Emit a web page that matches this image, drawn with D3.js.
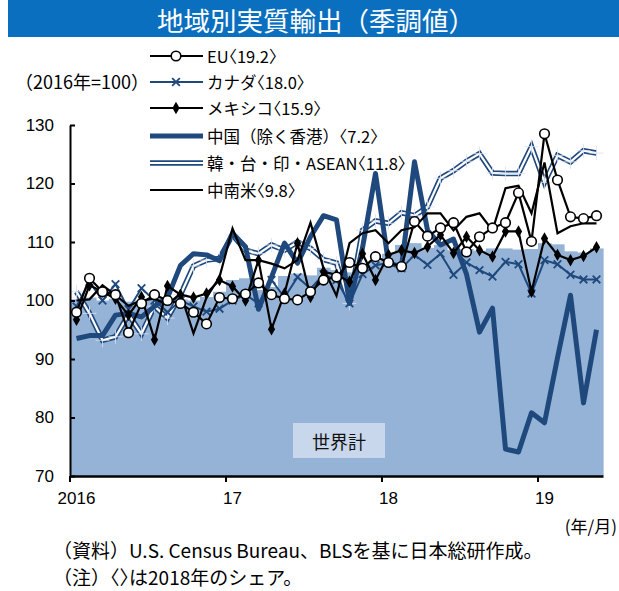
<!DOCTYPE html>
<html>
<head>
<meta charset="utf-8">
<script src="https://cdn.jsdelivr.net/npm/d3@7"></script>
<style>
  body { margin: 0; background: #fff; }
  text { font-family: "Noto Sans CJK JP", "DejaVu Sans", sans-serif; }
  .num { font-family: "Liberation Sans", Arial, sans-serif; }
  .half { font-feature-settings: "halt" 1; }
</style>
</head>
<body>
<div id="chart"></div>
<script>
// ---------------------------------------------------------------------------
// DATA  (2016/1 - 2019/5, 2016 = 100)
// ---------------------------------------------------------------------------
const months = [
  '2016/1', '2016/2', '2016/3', '2016/4', '2016/5', '2016/6', '2016/7', '2016/8', '2016/9', '2016/10', '2016/11', '2016/12',
  '2017/1', '2017/2', '2017/3', '2017/4', '2017/5', '2017/6', '2017/7', '2017/8', '2017/9', '2017/10', '2017/11', '2017/12',
  '2018/1', '2018/2', '2018/3', '2018/4', '2018/5', '2018/6', '2018/7', '2018/8', '2018/9', '2018/10', '2018/11', '2018/12',
  '2019/1', '2019/2', '2019/3', '2019/4', '2019/5',
];
const tickMonths = ['2016/1', '2017/1', '2018/1', '2019/1'];
const tickLabels = ['2016', '17', '18', '19'];
const yTicks = [70, 80, 90, 100, 110, 120, 130];

const world = [
  100.2, 100.5, 100.0, 100.3, 99.8, 100.0, 100.4, 99.6, 100.2, 100.0, 100.6, 101.5,
  103.5, 103.8, 101.8, 102.3, 104.2, 104.6, 104.3, 105.6, 105.2, 104.8, 106.0, 106.8,
  108.0, 109.5, 109.8, 109.0, 109.5, 108.6, 108.8, 108.5, 108.9, 108.9, 108.7, 108.8,
  109.8, 109.6, 108.4, 108.2, 108.9,
];
const eu = [
  98.0, 103.8, 101.5, 101.0, 94.5, 99.5, 101.0, 100.0, 99.5, 98.0, 96.0, 100.5,
  100.3, 101.1, 103.0, 101.0, 100.3, 100.1, 101.5, 103.5, 104.0, 106.5, 105.5, 107.5,
  106.5, 105.8, 113.5, 111.0, 112.4, 113.3, 108.3, 110.9, 112.4, 113.3, 118.4, 110.1,
  128.5, 120.6, 114.3, 114.0, 114.5,
];
const canada = [
  99.0, 103.2, 100.0, 102.8, 98.5, 102.1, 100.0, 98.0, 100.0, 99.0, 98.1, 98.6,
  100.0, 101.0, 99.5, 103.5, 100.5, 104.0, 102.0, 104.5, 103.5, 99.5, 104.5, 106.0,
  106.5, 105.5, 107.8, 106.1, 108.0, 104.4, 106.5, 105.2, 104.1, 106.6, 106.2, 101.2,
  106.9, 106.2, 104.4, 103.6, 103.6,
];
const mexico = [
  96.7, 102.6, 101.5, 100.3, 97.5, 100.6, 93.3, 102.5, 101.0, 100.5, 101.2, 103.5,
  102.4, 100.0, 106.9, 95.1, 101.2, 109.8, 100.6, 104.9, 104.4, 103.2, 108.0, 103.5,
  107.8, 108.6, 108.1, 109.2, 111.2, 108.1, 110.9, 108.6, 107.5, 111.8, 111.8, 101.5,
  110.6, 107.8, 106.9, 107.6, 109.1,
];
const china = [
  93.5, 94.0, 94.0, 97.5, 97.8, 97.2, 99.0, 100.5, 106.0, 108.0, 107.8, 106.8,
  111.5, 109.2, 98.5, 104.0, 109.8, 106.4, 110.9, 114.5, 113.8, 99.5, 109.0, 121.7,
  106.4, 105.8, 123.7, 112.0, 109.5, 110.5, 104.5, 94.6, 98.7, 74.6, 74.1, 80.8,
  79.1, 90.2, 100.9, 82.5, 95.0,
];
const asean = [
  101.5, 97.8, 93.2, 93.8, 97.6, 94.3, 99.0, 97.0, 101.0, 105.9, 106.9, 107.2,
  111.2, 108.6, 108.0, 109.5, 108.6, 110.0, 108.9, 107.0, 106.4, 99.5, 112.0, 113.6,
  113.2, 115.0, 114.5, 116.0, 120.9, 122.2, 123.8, 125.1, 121.8, 121.7, 121.7, 126.3,
  120.2, 124.8, 123.7, 125.6, 125.2,
];
const latam = [
  100.0, 100.2, 102.6, 100.9, 99.1, 100.0, 100.3, 99.3, 101.2, 94.4, 100.5, 104.0,
  112.3, 106.9, 106.9, 106.3, 105.5, 106.9, 113.3, 105.5, 100.8, 109.8, 111.5, 112.0,
  109.8, 112.0, 112.5, 114.9, 114.9, 112.0, 114.3, 114.9, 112.0, 119.2, 119.6, 114.9,
  123.6, 111.5, 112.7, 113.2, 113.2,
];

// ---------------------------------------------------------------------------
// SETUP
// ---------------------------------------------------------------------------
const blue = '#1F497D';
const areaColor = '#95B3D7';

const svg = d3.select('#chart').append('svg')
  .attr('width', 619)
  .attr('height', 591);

svg.append('rect').attr('width', 619).attr('height', 591).attr('fill', '#fff');

// title bar
svg.append('rect')
  .attr('x', 8).attr('y', 0)
  .attr('width', 611).attr('height', 37)
  .attr('fill', '#0B6FBF');
svg.append('text')
  .attr('x', 316).attr('y', 19)
  .attr('text-anchor', 'middle')
  .attr('dominant-baseline', 'central')
  .attr('fill', '#fff')
  .style('font-size', '26.5px')
  .text('地域別実質輸出（季調値）');

const x = d3.scaleBand().domain(months).range([70, 603]).padding(0);
const y = d3.scaleLinear().domain([70, 130]).range([476, 125]);
const cx = m => x(m) + x.bandwidth() / 2;

// text whose 〈 〉 brackets are set half width
function bracketText(sel, str) {
  str.split(/([〈〉])/).filter(s => s.length).forEach((part) => {
    const t = sel.append('tspan').text(part);
    if (part === '〈' || part === '〉') t.attr('class', 'half');
  });
}

const g = svg.append('g');

// ---------------------------------------------------------------------------
// WORLD TOTAL (stepped area drawn as bars)
// ---------------------------------------------------------------------------
g.selectAll('.world')
  .data(months)
  .enter().append('rect')
    .attr('class', 'world')
    .attr('x', m => x(m))
    .attr('width', x.bandwidth() + 0.6)
    .attr('y', (m, i) => y(world[i]))
    .attr('height', (m, i) => y(70) - y(world[i]))
    .attr('fill', areaColor);

// label box
g.append('rect')
  .attr('x', 293).attr('y', 423)
  .attr('width', 92).attr('height', 35)
  .attr('fill', '#C8D7EB');
g.append('text')
  .attr('x', 339).attr('y', 441)
  .attr('text-anchor', 'middle')
  .attr('dominant-baseline', 'central')
  .attr('fill', '#111')
  .style('font-size', '18px')
  .text('世界計');

// ---------------------------------------------------------------------------
// LINES
// ---------------------------------------------------------------------------
function lineOf(values) {
  return d3.line()
    .x((d, i) => cx(months[i]))
    .y(d => y(d))(values);
}

// ASEAN: double line
g.append('path').attr('d', lineOf(asean))
  .attr('fill', 'none').attr('stroke', blue).attr('stroke-width', 5.5)
  .attr('stroke-linejoin', 'miter');
g.append('path').attr('d', lineOf(asean))
  .attr('fill', 'none').attr('stroke', '#fff').attr('stroke-width', 2.2)
  .attr('stroke-linejoin', 'miter');
g.selectAll('.asean-plus')
  .data(asean)
  .enter().append('path')
    .attr('class', 'asean-plus')
    .attr('d', (d, i) => {
      const px = cx(months[i]);
      const py = y(d);
      return `M${px - 7},${py}H${px + 7}M${px},${py - 7}V${py + 7}`;
    })
    .attr('stroke', '#DCE1F0').attr('stroke-width', 1).attr('opacity', 0.8);

// China: thick
g.append('path').attr('d', lineOf(china))
  .attr('fill', 'none').attr('stroke', blue).attr('stroke-width', 5)
  .attr('stroke-linejoin', 'round');

// Canada
g.append('path').attr('d', lineOf(canada))
  .attr('fill', 'none').attr('stroke', blue).attr('stroke-width', 2);
g.selectAll('.canada-mark')
  .data(canada)
  .enter().append('path')
    .attr('class', 'canada-mark')
    .attr('d', (d, i) => {
      const px = cx(months[i]);
      const py = y(d);
      const s = 3.8;
      return `M${px - s},${py - s}L${px + s},${py + s}M${px - s},${py + s}L${px + s},${py - s}`;
    })
    .attr('stroke', blue).attr('stroke-width', 1.8);

// Latin America
g.append('path').attr('d', lineOf(latam))
  .attr('fill', 'none').attr('stroke', '#000').attr('stroke-width', 2.2);

// Mexico
g.append('path').attr('d', lineOf(mexico))
  .attr('fill', 'none').attr('stroke', '#000').attr('stroke-width', 2.2);
g.selectAll('.mexico-mark')
  .data(mexico)
  .enter().append('path')
    .attr('class', 'mexico-mark')
    .attr('transform', (d, i) => `translate(${cx(months[i])},${y(d)})`)
    .attr('d', d3.symbol().type(d3.symbolDiamond).size(45))
    .attr('fill', '#000');

// EU
g.append('path').attr('d', lineOf(eu))
  .attr('fill', 'none').attr('stroke', '#000').attr('stroke-width', 2.2);
g.selectAll('.eu-mark')
  .data(eu)
  .enter().append('circle')
    .attr('class', 'eu-mark')
    .attr('cx', (d, i) => cx(months[i]))
    .attr('cy', d => y(d))
    .attr('r', 4.8)
    .attr('fill', '#fff')
    .attr('stroke', '#000')
    .attr('stroke-width', 1.6);

// ---------------------------------------------------------------------------
// AXES
// ---------------------------------------------------------------------------
const yAxis = svg.append('g')
  .attr('transform', 'translate(70,0)')
  .call(d3.axisRight(y).tickValues(yTicks).tickSize(5).tickSizeOuter(0).tickFormat(''));
yAxis.select('.domain').attr('stroke', '#000').attr('stroke-width', 2);
yAxis.selectAll('.tick line').attr('stroke', '#000').attr('stroke-width', 2);

svg.append('g').selectAll('.ylab')
  .data(yTicks)
  .enter().append('text')
    .attr('class', 'num')
    .attr('x', 54)
    .attr('y', d => y(d))
    .attr('text-anchor', 'end')
    .attr('dominant-baseline', 'central')
    .style('font-size', '17px')
    .text(d => d);

const xAxis = svg.append('g')
  .attr('transform', 'translate(0,476)')
  .call(d3.axisBottom(x).tickValues([]).tickSizeOuter(0));
xAxis.select('.domain').attr('stroke', '#000').attr('stroke-width', 2.5);

svg.append('g').selectAll('.xtick')
  .data(tickMonths)
  .enter().append('line')
    .attr('x1', m => x(m)).attr('x2', m => x(m))
    .attr('y1', 476).attr('y2', 482)
    .attr('stroke', '#000').attr('stroke-width', 2);

svg.append('g').selectAll('.xlab')
  .data(tickMonths)
  .enter().append('text')
    .attr('class', 'num')
    .attr('x', m => cx(m))
    .attr('y', 498)
    .attr('text-anchor', 'middle')
    .attr('dominant-baseline', 'central')
    .style('font-size', '17px')
    .text((m, i) => tickLabels[i]);

// ---------------------------------------------------------------------------
// LEGEND
// ---------------------------------------------------------------------------
svg.append('text')
  .attr('x', 15).attr('y', 81)
  .attr('dominant-baseline', 'central')
  .style('font-size', '18px')
  .text('（2016年=100）');

const legendNames = ['EU〈19.2〉', 'カナダ〈18.0〉', 'メキシコ〈15.9〉', '中国（除く香港）〈7.2〉', '韓・台・印・ASEAN〈11.8〉', '中南米〈9.8〉'];
const legendY = [56, 82, 108, 136, 163, 190];
const lg = svg.append('g');

legendNames.forEach((name, i) => {
  const ly = legendY[i];
  if (i === 4) {
    lg.append('line').attr('x1', 150).attr('x2', 203).attr('y1', ly).attr('y2', ly)
      .attr('stroke', blue).attr('stroke-width', 5.5);
    lg.append('line').attr('x1', 150).attr('x2', 203).attr('y1', ly).attr('y2', ly)
      .attr('stroke', '#fff').attr('stroke-width', 2.2);
  } else {
    lg.append('line').attr('x1', 150).attr('x2', 203).attr('y1', ly).attr('y2', ly)
      .attr('stroke', (i === 1 || i === 3) ? blue : '#000')
      .attr('stroke-width', i === 3 ? 5 : 2.2);
  }
  if (i === 0) {
    lg.append('circle').attr('cx', 176).attr('cy', ly).attr('r', 4.8)
      .attr('fill', '#fff').attr('stroke', '#000').attr('stroke-width', 1.6);
  } else if (i === 1) {
    const s = 3.8;
    lg.append('path')
      .attr('d', `M${176 - s},${ly - s}L${176 + s},${ly + s}M${176 - s},${ly + s}L${176 + s},${ly - s}`)
      .attr('stroke', blue).attr('stroke-width', 1.8);
  } else if (i === 2) {
    lg.append('path')
      .attr('transform', `translate(176,${ly})`)
      .attr('d', d3.symbol().type(d3.symbolDiamond).size(45))
      .attr('fill', '#000');
  }
  const t = lg.append('text')
    .attr('x', 207).attr('y', ly)
    .attr('dominant-baseline', 'central')
    .style('font-size', '16.5px');
  bracketText(t, name);
});

// ---------------------------------------------------------------------------
// NOTES
// ---------------------------------------------------------------------------
svg.append('text')
  .attr('x', 617).attr('y', 525)
  .attr('text-anchor', 'end')
  .attr('dominant-baseline', 'central')
  .style('font-size', '17px')
  .text('(年/月)');
svg.append('text')
  .attr('x', 53).attr('y', 549)
  .attr('dominant-baseline', 'central')
  .style('font-size', '19px')
  .text('（資料）U.S. Census Bureau、BLSを基に日本総研作成。');
const note = svg.append('text')
  .attr('x', 53).attr('y', 576)
  .attr('dominant-baseline', 'central')
  .style('font-size', '19px');
bracketText(note, '（注）〈〉は2018年のシェア。');
</script>
</body>
</html>
